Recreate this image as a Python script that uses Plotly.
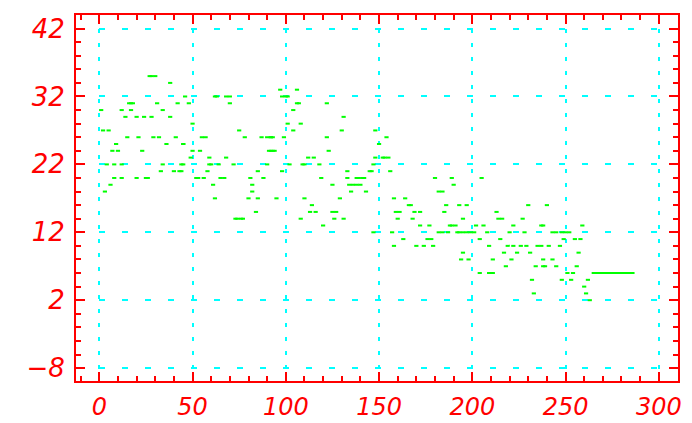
import plotly.graph_objects as go

# scattered samples (x, y)
pts_x = [1, 2, 3, 4, 5, 6, 7, 8, 8, 9, 10, 12, 12, 12, 14, 15, 16, 17, 17, 18, 20, 20, 21, 23, 24, 25, 26,
         27, 28, 28, 29, 30, 31, 32, 33, 34, 34, 36, 38, 38, 40, 41, 42, 44, 44, 45,
         43, 45, 45, 46, 48, 49, 50, 50, 52, 53, 54, 55, 56, 57, 58, 59, 59, 60, 61, 62, 62, 63, 64, 65, 67,
         68, 68, 70, 70, 72, 73, 74, 75, 76, 77, 78, 80, 81, 82, 82, 84, 85, 85, 87, 88, 90, 90, 91, 92, 92,
         92, 93, 93, 94, 95, 97, 98, 98, 99, 100, 101, 101, 102, 104, 104, 106, 106, 107, 108, 108, 109, 110,
         110, 112, 113, 114, 115, 116, 118, 119, 120, 122, 122, 123, 125, 125, 126, 127, 129, 130, 131, 131,
         133, 133, 134, 135, 136, 138, 138, 139, 140, 141, 142, 143, 145, 146, 147, 147, 148, 148, 150, 152,
         153, 154, 155, 156, 157, 158, 158, 159, 160, 161, 163, 164, 166, 167, 168, 169, 170, 172, 172, 174,
         176, 177, 178, 179, 180, 182, 182, 184, 184, 185, 186, 187, 188, 189, 189, 190, 191, 192, 193, 193,
         194, 195, 195, 195, 197, 197, 198, 199, 201, 202, 204, 204, 205, 206, 208, 209, 209, 210, 211, 211,
         213, 214, 215, 216, 217, 218, 219, 220, 221, 222, 222, 224, 226, 227, 228, 229, 230, 231, 232, 233,
         234, 235, 237, 237, 238, 238, 238, 239, 240, 241, 243, 243, 245, 245, 247, 248, 248, 249, 250, 251,
         252, 253, 254, 255, 256, 257, 258, 259, 260, 261, 262, 263]
pts_y = [30, 27, 18, 22, 27, 19, 24, 22, 20, 25, 24, 30, 22, 20, 29, 26, 31, 31, 30, 31, 29, 20, 26, 24, 29, 20, 20,
         35, 35, 29, 26, 35, 31, 26, 21, 30, 22, 25, 34, 29, 21, 26, 31, 22, 21, 25,
         21, 22, 25, 32, 31, 23, 28, 24, 20, 20, 24, 26, 20, 26, 21, 23, 22, 22, 19, 32, 17, 32, 22, 20, 20,
         32, 23, 32, 31, 22, 14, 14, 27, 14, 14, 26, 17, 20, 19, 18, 15, 21, 17, 26, 20, 26, 22, 24, 26, 24,
         26, 26, 24, 24, 17, 33, 32, 21, 26, 32, 32, 28, 22, 30, 27, 33, 31, 31, 28, 14, 22, 22,
         17, 23, 15, 16, 23, 15, 22, 20, 13, 31, 26, 24, 19, 15, 14, 15, 17, 27, 29, 14,
         21, 20, 19, 18, 19, 20, 19, 20, 19, 20, 20, 18, 21, 21, 22, 12, 27, 23, 25, 23,
         23, 26, 23, 21, 12, 17, 10, 15, 14, 15, 11, 17, 16, 16, 14, 15, 10, 15, 13, 10,
         11, 13, 11, 10, 20, 18, 12, 18, 12, 15, 16, 12, 13, 20, 13, 19, 13, 12, 12, 16,
         8, 14, 9, 12, 16, 12, 8, 12, 12, 13, 11, 6, 20, 13, 12, 10, 6, 6, 6, 8,
         15, 14, 11, 14, 9, 7, 10, 12, 8, 10, 13, 9, 10, 14, 12, 10, 16, 9, 5, 3,
         7, 10, 10, 13, 8, 7, 13, 7, 16, 10, 12, 8, 12, 7, 10, 12, 5, 11, 12, 6,
         12, 5, 6, 11, 7, 9, 11, 13, 4, 3, 5, 2]

# flat tail segment
tail_x = [264, 287]
tail_y = [6, 6]

x_ticks = [0, 50, 100, 150, 200, 250, 300]
y_ticks = [-8, 2, 12, 22, 32, 42]

RED = "#ff0000"
GREEN = "#00ff00"
CYAN = "#00ffff"


def lab(v):
    return str(v).replace("-", "\u2212")


fig = go.Figure()
fig.add_trace(go.Scatter(
    x=pts_x, y=pts_y, mode="markers",
    marker=dict(symbol="line-ew", size=3, line=dict(color=GREEN, width=2), color=GREEN),
    hoverinfo="skip", showlegend=False))
fig.add_trace(go.Scatter(
    x=tail_x, y=tail_y, mode="lines",
    line=dict(color=GREEN, width=2), hoverinfo="skip", showlegend=False))

xfont = dict(family="DejaVu Sans", size=24, color=RED, style="italic")
yfont = dict(family="DejaVu Sans", size=26, color=RED, style="italic")

fig.update_layout(
    width=692, height=423,
    margin=dict(l=76, r=14, t=15, b=42),
    paper_bgcolor="white", plot_bgcolor="white",
    xaxis=dict(
        range=[-12.5, 310.3], tickmode="array", tickvals=x_ticks,
        ticktext=[lab(v) for v in x_ticks], automargin=False,
        showline=True, linecolor=RED, linewidth=2, mirror="allticks",
        ticks="inside", ticklen=9, tickwidth=2, tickcolor=RED,
        minor=dict(dtick=10, tick0=0, ticks="inside", ticklen=5, tickwidth=2, tickcolor=RED, showgrid=False),
        showgrid=True, gridcolor=CYAN, gridwidth=2, griddash="4px,10px",
        zeroline=False, tickfont=xfont, ticklabelstandoff=3,
    ),
    yaxis=dict(
        range=[-9.9, 44], tickmode="array", tickvals=y_ticks,
        ticktext=[lab(v) for v in y_ticks], automargin=False,
        showline=True, linecolor=RED, linewidth=2, mirror="allticks",
        ticks="inside", ticklen=9, tickwidth=2, tickcolor=RED,
        minor=dict(dtick=2, tick0=-8, ticks="inside", ticklen=5, tickwidth=2, tickcolor=RED, showgrid=False),
        showgrid=True, gridcolor=CYAN, gridwidth=2, griddash="6px,17px",
        zeroline=False, tickfont=yfont, ticklabelstandoff=4,
    ),
)

fig.write_html("out.html")
